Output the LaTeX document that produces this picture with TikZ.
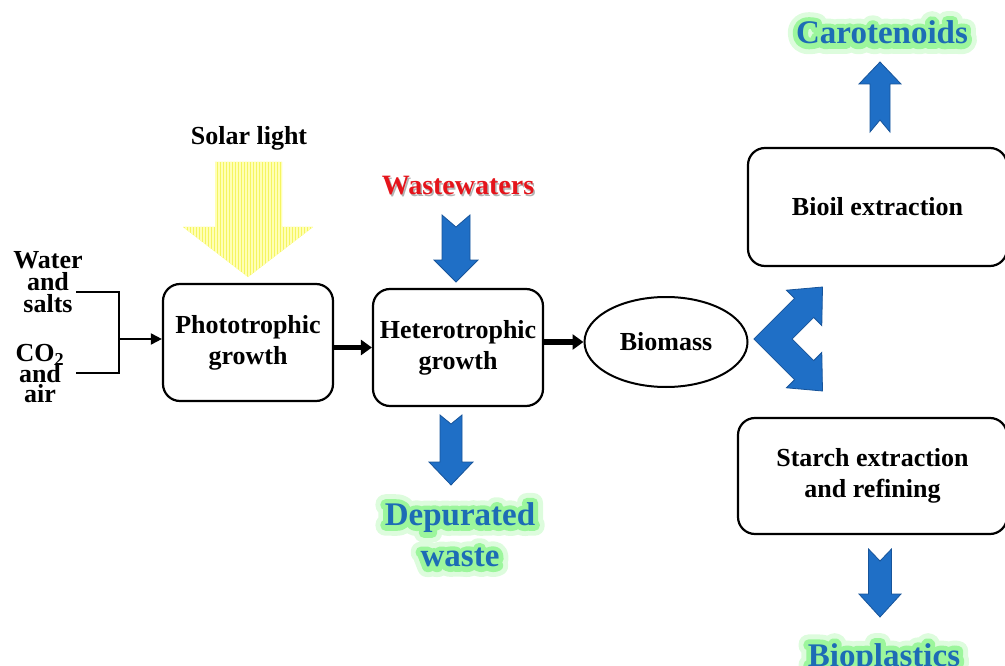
\documentclass[tikz,border=0pt]{standalone}
\usepackage{fontspec}
\setmainfont{Liberation Serif}
\newfontface\glowouter{Liberation Serif Bold}[FakeBold=60]
\newfontface\glowinner{Liberation Serif Bold}[FakeBold=30]
\usetikzlibrary{arrows.meta,calc,shapes.geometric}
\definecolor{tblue}{HTML}{1D6CB5}
\definecolor{afill}{HTML}{1F6FC6}
\definecolor{aedge}{HTML}{17549A}
\definecolor{glowA}{HTML}{DDFCDD}
\definecolor{glowB}{HTML}{9CF69C}
\definecolor{wred}{HTML}{E5141B}
\definecolor{sunA}{HTML}{F5F560}
\definecolor{sunB}{HTML}{FFFFB5}
\newcommand\tightlines{\lineskiplimit-30pt\relax}
\newcommand\glowlabel[4]{%
  \node[bluelabel,#2,line join=round,font={\glowouter\fontsize{33}{41}\selectfont},text=glowA] at (#3) {#4};
  \node[bluelabel,#2,line join=round,font={\glowinner\fontsize{33}{41}\selectfont},text=glowB] at (#3) {#4};
  \node[bluelabel,#2] (#1) at (#3) {#4};}
\begin{document}
\begin{tikzpicture}[x=1pt,y=-1pt,
  box/.style={draw,line width=2.2pt,rounded corners=17pt,align=center,inner sep=0pt,
    font={\bfseries\fontsize{26}{31}\selectfont}},
  lbl/.style={font={\bfseries\fontsize{26}{31}\selectfont},inner sep=0pt},
  bluelabel/.style={font={\bfseries\fontsize{33}{41}\selectfont},text=tblue,align=center,inner sep=0pt},
  conn/.style={line width=2pt},
  thinarrow/.style={line width=2pt,-{Triangle[length=11pt,width=11pt]}},
  bigarrow/.style={line width=5.5pt,-{Triangle[length=11pt,width=15pt]}},
  blockarrow/.style={fill=afill,draw=aedge,line width=0.8pt,line join=miter}]
\useasboundingbox (0,0) rectangle (1005,666);

% boxes
\node[box,minimum width=170pt,minimum height=117pt] (photo) at (248,342.5) {Phototrophic\\growth};
\node[box,minimum width=170pt,minimum height=117pt] (hetero) at (458,347.5) {Heterotrophic\\growth};
\node[draw,ellipse,line width=2pt,minimum width=163pt,minimum height=90pt,inner sep=0pt,lbl] (biomass) at (666,342) {Biomass};
\node[box,minimum width=259pt,minimum height=118pt] (bioil) at (877.5,207) {Bioil extraction};
\node[box,minimum width=269pt,minimum height=116pt] (starch) at (872.5,476) {Starch extraction\\and refining};

% plain labels
\node[lbl,anchor=base] (solar) at (249,145) {Solar light};
\node[lbl,anchor=base,font={\bfseries\fontsize{28}{31}\selectfont},text=black!30] at (459.5,196.5) {Wastewaters};
\node[lbl,anchor=base,font={\bfseries\fontsize{28}{31}\selectfont},text=wred] (waste) at (458,195) {Wastewaters};
\node[lbl,align=center,font={\bfseries\fontsize{26}{22}\selectfont\tightlines}] (water) at (48,282.5) {Water\\and\\salts};
\node[lbl,align=center,font={\bfseries\fontsize{26}{20.5}\selectfont\tightlines}] (co2) at (40,374) {CO\textsubscript{2}\\and\\air};

% glowing product labels
\glowlabel{carot}{anchor=base}{882,44}{Carotenoids}
\glowlabel{depur}{}{460,535}{Depurated\\waste}
\glowlabel{biopl}{anchor=base}{884,666}{Bioplastics}

% input connectors
\coordinate (wend) at (76,292);
\coordinate (cend) at (76,373);
\coordinate (jn) at (119,339);
\draw[conn] (wend) -- (wend -| jn) -- (cend -| jn) -- (cend);
\draw[thinarrow] (jn) -- (jn -| photo.west);

% thick process arrows
\draw[bigarrow] (hetero.west -| photo.east) -- (hetero.west);
\draw[bigarrow] (biomass.west -| hetero.east) -- (biomass.west);

% solar light arrow (striped yellow)
\begin{scope}
  \clip (215,162) -- (282,162) -- (282,227) -- (313,227) -- (248,277) -- (183,227) -- (215,227) -- cycle;
  \fill[sunA] (180,160) rectangle (316,280);
  \foreach \xx in {183,186,...,315} \draw[sunB,line width=1.2pt] (\xx,160) -- (\xx,280);
\end{scope}

% notched blue arrows
\draw[blockarrow] (442,215) -- (456,227) -- (470,215) -- (470,260) -- (478,260) -- (456,282) -- (434,260) -- (442,260) -- cycle;
\draw[blockarrow] (440,415) -- (451,424) -- (462,415) -- (462,462) -- (473,462) -- (451,485) -- (429,462) -- (440,462) -- cycle;
\draw[blockarrow] (868.5,549) -- (880,561) -- (891.5,549) -- (891.5,594) -- (901,594) -- (880,617) -- (859,594) -- (868.5,594) -- cycle;
\draw[blockarrow] (870,132) -- (880,120) -- (890,132) -- (890,84) -- (901,84) -- (880,62) -- (859,84) -- (870,84) -- cycle;

% double chevron arrow from biomass
\draw[blockarrow] (753.9,339) -- (794.6,298.3) -- (786.4,290.2) -- (822.5,287) -- (821.8,325.6) -- (813.7,317.4)
  -- (792.1,339) -- (813.7,360.6) -- (821.8,352.4) -- (822.5,391) -- (786.4,387.8) -- (794.6,379.7) -- cycle;
\end{tikzpicture}
\end{document}
